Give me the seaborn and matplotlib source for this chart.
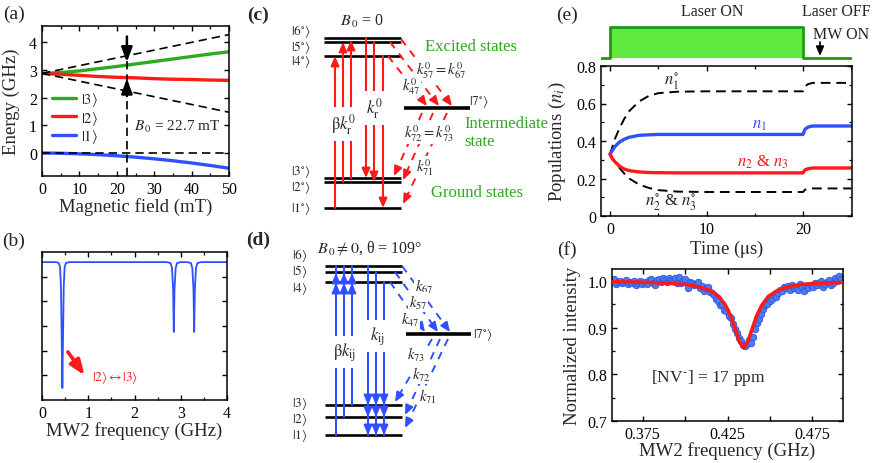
import numpy as np
import pandas as pd
import matplotlib
matplotlib.use("Agg")
import matplotlib.pyplot as plt
import seaborn as sns

# ---------------- data ----------------
# (a) energy levels vs magnetic field
field_mT = [0, 5, 10, 15, 20, 25, 30, 35, 40, 45, 50]
E3 = [2.87, 2.90, 2.96, 3.04, 3.12, 3.21, 3.30, 3.39, 3.48, 3.57, 3.65]
E2 = [2.87, 2.84, 2.80, 2.76, 2.73, 2.71, 2.68, 2.66, 2.65, 2.63, 2.62]
E1 = [0.0, -0.01, -0.03, -0.06, -0.10, -0.15, -0.21, -0.28, -0.36, -0.45, -0.55]
dash_field = [0, 50]
dash_upper = [2.87, 4.27]
dash_lower = [2.87, 1.47]
dash_zero = [0.0, 0.0]
B0_field = 22.7

# (b) ODMR spectrum (arb. units)
mw_freq = [0.0, 0.30, 0.36, 0.39, 0.41, 0.425, 0.44, 0.455, 0.47, 0.49, 0.52, 0.60,
           2.70, 2.78, 2.81, 2.835, 2.85, 2.865, 2.89, 2.92, 3.00,
           3.14, 3.22, 3.25, 3.275, 3.29, 3.305, 3.33, 3.36, 3.44, 4.0]
mw_signal = [5.59, 5.59, 5.56, 5.40, 4.60, 2.60, 0.49, 2.60, 4.60, 5.40, 5.56, 5.59,
             5.59, 5.55, 5.35, 4.50, 2.76, 4.50, 5.35, 5.55, 5.59,
             5.59, 5.55, 5.35, 4.50, 2.76, 4.50, 5.35, 5.55, 5.59, 5.59]

# (e) populations vs time
time_us = [0, 0.25, 0.5, 1, 1.5, 2, 3, 4, 5, 7, 10, 15, 19.95, 20.0, 20.2, 20.5, 21, 25]
n1 = [0.33, 0.35, 0.37, 0.395, 0.41, 0.42, 0.43, 0.433, 0.435, 0.435, 0.435, 0.435,
      0.435, 0.435, 0.462, 0.474, 0.48, 0.48]
n23 = [0.33, 0.305, 0.29, 0.265, 0.25, 0.242, 0.235, 0.232, 0.231, 0.23, 0.23, 0.23,
       0.23, 0.23, 0.246, 0.252, 0.256, 0.256]
n1_0 = [0.33, 0.37, 0.41, 0.47, 0.52, 0.56, 0.61, 0.64, 0.655, 0.663, 0.665, 0.665,
        0.665, 0.665, 0.69, 0.703, 0.71, 0.71]
n23_0 = [0.33, 0.31, 0.29, 0.255, 0.225, 0.2, 0.168, 0.15, 0.138, 0.13, 0.128, 0.128,
         0.128, 0.128, 0.14, 0.145, 0.147, 0.147]
laser_t = [-0.9, 0, 0, 20, 20, 25]
laser_on = [0, 0, 1, 1, 0, 0]

# (f) measured ODMR dip and fit
meas_int = [1.004, 0.993, 0.998, 1.001, 0.996, 0.999, 1.003, 0.994, 0.999, 0.997,
            1.001, 0.992, 0.996, 1.000, 0.994, 0.998, 0.993, 1.002, 1.004, 0.997,
            0.991, 1.003, 1.005, 0.999, 1.006, 1.002, 0.998, 1.007, 1.003, 1.000,
            1.006, 0.997, 1.009, 0.995, 1.001, 1.004, 0.985, 0.998, 0.996, 0.992,
            0.993, 0.998, 0.985, 0.990, 0.978, 0.985, 0.987, 0.976, 0.975, 0.970,
            0.961, 0.957, 0.948, 0.950, 0.938, 0.935, 0.925, 0.920, 0.908, 0.898,
            0.888, 0.878, 0.872, 0.863, 0.860, 0.866, 0.873, 0.868, 0.880, 0.898,
            0.910, 0.918, 0.930, 0.940, 0.948, 0.952, 0.958, 0.962, 0.970, 0.966,
            0.975, 0.981, 0.978, 0.988, 0.985, 0.990, 0.982, 0.992, 0.985, 0.988,
            0.981, 0.993, 0.987, 0.978, 0.990, 0.985, 0.992, 0.988, 0.997, 0.991,
            0.995, 1.000, 0.988, 0.994, 0.998, 1.003, 0.991, 0.997, 1.006, 1.001,
            1.012, 1.005]
meas_freq = np.linspace(0.358, 0.492, len(meas_int))
fit_freq = [0.357, 0.37, 0.38, 0.39, 0.40, 0.405, 0.41, 0.415, 0.42, 0.424, 0.427,
            0.430, 0.432, 0.4345, 0.437, 0.439, 0.442, 0.445, 0.449, 0.454, 0.459,
            0.464, 0.469, 0.479, 0.492]
fit_int = [0.9985, 0.998, 0.997, 0.9955, 0.993, 0.990, 0.986, 0.979, 0.967, 0.947, 0.924,
           0.892, 0.870, 0.857, 0.870, 0.892, 0.924, 0.947, 0.967, 0.979, 0.986,
           0.990, 0.993, 0.9955, 0.997]

# ---------------- style ----------------
sns.set_theme(style="ticks")
plt.rcParams["font.family"] = ["Liberation Serif", "DejaVu Serif"]
plt.rcParams["mathtext.fontset"] = "stix"
plt.rcParams.update({
    "xtick.direction": "in", "ytick.direction": "in",
    "xtick.top": True, "ytick.right": True,
    "axes.linewidth": 1.1, "xtick.major.width": 1.0, "ytick.major.width": 1.0,
    "xtick.minor.width": 0.9, "ytick.minor.width": 0.9,
    "xtick.major.size": 3.5, "ytick.major.size": 3.5,
    "xtick.minor.size": 2.0, "ytick.minor.size": 2.0,
    "xtick.labelsize": 11.5, "ytick.labelsize": 11.5,
    "axes.labelsize": 13.5, "axes.edgecolor": "black",
    "xtick.color": "black", "ytick.color": "black",
})

W, H = 872, 464
fig = plt.figure(figsize=(W / 100, H / 100), dpi=100)


def add_ax(l, r, t, b):
    return fig.add_axes([l / W, (H - b) / H, (r - l) / W, (b - t) / H])


GREEN = "#2eaa1e"
RED = "#ff1a1a"
BLUE = "#3050ff"
dash = (0, (5, 3))

# ---- (a) ----
axa = add_ax(42, 229, 27, 177)
sns.lineplot(x=field_mT, y=E3, ax=axa, color=GREEN, lw=2.4, label=r"$|3\rangle$")
sns.lineplot(x=field_mT, y=E2, ax=axa, color=RED, lw=2.4, label=r"$|2\rangle$")
sns.lineplot(x=field_mT, y=E1, ax=axa, color=BLUE, lw=2.4, label=r"$|1\rangle$")
for yy in (dash_upper, dash_lower, dash_zero):
    sns.lineplot(x=dash_field, y=yy, ax=axa, color="black", lw=1.2, linestyle=dash)
axa.plot([B0_field, B0_field], [-0.83, 4.1], color="black", lw=1.2, linestyle=dash)
axa.annotate("", xy=(B0_field, 3.28), xytext=(B0_field, 4.2),
             arrowprops=dict(arrowstyle="-|>,head_length=0.8,head_width=0.3",
                             color="black", lw=1.8, shrinkA=0, shrinkB=0, mutation_scale=11))
axa.annotate("", xy=(B0_field, 2.68), xytext=(B0_field, 2.05),
             arrowprops=dict(arrowstyle="-|>,head_length=0.8,head_width=0.3",
                             color="black", lw=1.8, shrinkA=0, shrinkB=0, mutation_scale=11))
axa.text(24.6, 0.97, r"$B_{\,0}$ = 22.7 mT", fontsize=11, va="center", ha="left")
axa.set_xlim(0, 50)
axa.set_ylim(-0.83, 4.58)
axa.set_xticks([0, 10, 20, 30, 40, 50])
axa.set_xticks([5, 15, 25, 35, 45], minor=True)
axa.set_yticks([0, 1, 2, 3, 4])
axa.set_xlabel("Magnetic field (mT)")
axa.set_ylabel("Energy (GHz)")
axa.xaxis.set_label_coords(0.5, -0.14)
axa.yaxis.set_label_coords(-0.115, 0.5)
axa.legend(loc="center left", bbox_to_anchor=(0.0, 0.39), frameon=False, fontsize=10.5,
           handlelength=1.6, handletextpad=0.4, labelspacing=0.05, borderpad=0.2)

# ---- (b) ----
axb = add_ax(42, 227, 253, 401)
sns.lineplot(x=mw_freq, y=mw_signal, ax=axb, color=BLUE, lw=1.3, estimator=None, sort=False)
axb.set_xlim(0, 4)
axb.set_ylim(0, 6)
axb.set_xticks([0, 1, 2, 3, 4])
axb.set_xticks([0.5, 1.5, 2.5, 3.5], minor=True)
axb.set_yticks([1, 2, 3, 4, 5])
axb.set_yticklabels([])
axb.set_xlabel("MW2 frequency (GHz)")
axb.xaxis.set_label_coords(0.5, -0.145)
axb.set_ylabel("")
axb.annotate("", xy=(0.92, 1.0), xytext=(0.56, 1.95),
             arrowprops=dict(arrowstyle="-|>,head_length=0.9,head_width=0.35",
                             color=RED, lw=2.6, shrinkA=0, shrinkB=0, mutation_scale=10))
axb.text(1.08, 0.95, r"$|2\rangle \leftrightarrow |3\rangle$", color=RED, fontsize=9.5,
         va="center", ha="left")

# ---- (e) ----
axe = add_ax(601, 852, 67, 217)
sns.lineplot(x=time_us, y=n1_0, ax=axe, color="black", lw=1.4, linestyle=dash, estimator=None, sort=False)
sns.lineplot(x=time_us, y=n23_0, ax=axe, color="black", lw=1.4, linestyle=dash, estimator=None, sort=False)
sns.lineplot(x=time_us, y=n1, ax=axe, color=BLUE, lw=2.4, estimator=None, sort=False)
sns.lineplot(x=time_us, y=n23, ax=axe, color=RED, lw=2.4, estimator=None, sort=False)
axe.set_xlim(-0.93, 25.07)
axe.set_ylim(0, 0.8)
axe.set_xticks([0, 10, 20])
axe.set_xticks([5, 15, 25], minor=True)
axe.set_yticks([0, 0.2, 0.4, 0.6, 0.8])
axe.set_yticklabels(["0", "0.2", "0.4", "0.6", "0.8"])
axe.set_yticks([0.1, 0.3, 0.5, 0.7], minor=True)
axe.set_xlabel(r"Time ($\mathrm{\mu}$s)")
axe.set_ylabel(r"Populations ($n_i$)")
axe.xaxis.set_label_coords(0.5, -0.145)
axe.yaxis.set_label_coords(-0.13, 0.5)
axe.text(6.4, 0.72, r"$n_1^{\circ}$", fontsize=12, ha="center", va="center")
axe.text(15.5, 0.49, r"$n_1$", fontsize=12, color=BLUE, ha="center", va="center")
axe.text(15.8, 0.29, r"$n_2$ & $n_3$", fontsize=12, color=RED, ha="center", va="center")
axe.text(6.3, 0.075, r"$n_2^{\circ}$ & $n_3^{\circ}$", fontsize=12, ha="center", va="center")

# pulse sequence
axp = add_ax(601, 852, 20, 62)
axp.fill_between(laser_t, laser_on, 0, color="#5fe83e", lw=0)
sns.lineplot(x=laser_t, y=laser_on, ax=axp, color="#1f9a10", lw=2.0, estimator=None, sort=False)
axp.set_xlim(-0.93, 25.07)
axp.set_ylim(-0.097, 1.258)
axp.axis("off")

# ---- (f) ----
axf = add_ax(612, 843, 270, 422)
sns.scatterplot(x=meas_freq, y=meas_int, ax=axf, color="#4a7cf5", edgecolor="#2f55e0",
                s=22, linewidth=0.6, zorder=2)
sns.lineplot(x=fit_freq, y=fit_int, ax=axf, color=RED, lw=2.6, zorder=3)
axf.set_xlim(0.357, 0.493)
axf.set_ylim(0.7, 1.026)
axf.set_xticks([0.375, 0.4, 0.425, 0.45, 0.475])
axf.set_xticklabels(["0.375", "", "0.425", "", "0.475"])
axf.set_yticks([0.7, 0.8, 0.9, 1.0])
axf.set_yticklabels(["0.7", "0.8", "0.9", "1.0"])
axf.set_yticks([0.75, 0.85, 0.95], minor=True)
axf.set_xlabel("MW2 frequency (GHz)")
axf.set_ylabel("Normalized intensity")
axf.xaxis.set_label_coords(0.5, -0.13)
axf.yaxis.set_label_coords(-0.135, 0.5)
axf.text(0.4138, 0.795, r"[NV$^{\text{-}}$] = 17 ppm", fontsize=12.5, ha="center", va="center")

# ---- overlay for diagrams (c), (d) and panel labels ----
ov = fig.add_axes([0, 0, 1, 1])
ov.set_xlim(0, W)
ov.set_ylim(H, 0)
ov.axis("off")
ov.patch.set_alpha(0)

for lab, x, y, wt in [("(a)", 14, 14, "normal"), ("(b)", 14, 241, "normal"),
                      ("(c)", 258, 15, "bold"), ("(d)", 258, 240, "bold"),
                      ("(e)", 567, 15, "normal"), ("(f)", 567, 250, "normal")]:
    ov.text(x, y, lab, fontsize=14, ha="center", va="center", fontweight=wt)

ov.text(712, 12, "Laser ON", fontsize=11.5, ha="center", va="center")
ov.text(836, 12, "Laser OFF", fontsize=11.5, ha="center", va="center")
ov.text(841, 35, "MW ON", fontsize=11.5, ha="center", va="center")


def arrow(x0, y0, x1, y1, color, lw=1.5, ms=8, hl=0.7, hw=0.3):
    ov.annotate("", xy=(x1, y1), xytext=(x0, y0),
                arrowprops=dict(arrowstyle=f"-|>,head_length={hl},head_width={hw}",
                                color=color, lw=lw, shrinkA=0, shrinkB=0, mutation_scale=ms))


def dashed_arrow(x0, y0, x1, y1, color):
    L = np.hypot(x1 - x0, y1 - y0)
    ux, uy = (x1 - x0) / L, (y1 - y0) / L
    xm, ym = x1 - 8 * ux, y1 - 8 * uy
    ov.plot([x0, xm], [y0, ym], color=color, lw=1.4, linestyle=(0, (4, 3.5)))
    arrow(xm, ym, x1, y1, color, lw=1.4)


wb = dict(fc="white", ec="none", pad=0.6)
wbig = dict(fc="white", ec="none", pad=3.5)
LFS = 9.5
KFS = 10.5

# (c) levels at B0 = 0
c_top = [39, 43, 57]          # |6°>, |5°>, |4°>
c_bot = [179, 183, 209]       # |3°>, |2°>, |1°>
c_mid = 109                   # |7°>
for y in c_top + c_bot:
    ov.plot([324, 401], [y, y], color="black", lw=1.9, solid_capstyle="butt")
ov.plot([404, 470], [c_mid, c_mid], color="black", lw=2.6, solid_capstyle="butt")
for lab, y in zip([r"$|6^{\circ}\rangle$", r"$|5^{\circ}\rangle$", r"$|4^{\circ}\rangle$",
                   r"$|3^{\circ}\rangle$", r"$|2^{\circ}\rangle$", r"$|1^{\circ}\rangle$"],
                  [32, 47, 62, 172, 188, 209]):
    ov.text(301, y, lab, fontsize=LFS, ha="center", va="center")
ov.text(479, 102, r"$|7^{\circ}\rangle$", fontsize=LFS, ha="center", va="center")
ov.text(362, 21, r"$B_{\,0}$ = 0", fontsize=11.5, ha="center", va="center")
for x, y0, y1 in zip([335, 343, 351], [209, 183, 179], [57, 43, 41]):
    arrow(x, y0, x, y1, RED)
for x, y0, y1 in zip([366, 374, 383], [39, 43, 57], [179, 183, 209]):
    arrow(x, y0, x, y1, RED)
for x0, y0, x1, y1 in [(401, 40, 452, 107), (390, 43, 439, 107), (388, 57, 427, 107)]:
    dashed_arrow(x0, y0, x1, y1, RED)
for x0, y0, x1, y1 in [(422, 114, 394, 177), (433, 114, 403, 181), (447, 114, 403, 205)]:
    dashed_arrow(x0, y0, x1, y1, RED)
ov.text(344, 125, r"$\mathrm{\beta}k^0_\mathrm{r}$", fontsize=12, ha="center", va="center", bbox=wbig)
ov.text(375, 109, r"$k^0_\mathrm{r}$", fontsize=12, ha="center", va="center", bbox=wbig)
ov.text(441, 71, r"$k^0_{57}=k^0_{67}$", fontsize=KFS, ha="center", va="center", bbox=wb)
ov.text(411, 87, r"$k^0_{47}$", fontsize=KFS, ha="center", va="center", bbox=wb)
ov.text(429, 134, r"$k^0_{72}=k^0_{73}$", fontsize=KFS, ha="center", va="center", bbox=wb)
ov.text(425, 168, r"$k^0_{71}$", fontsize=KFS, ha="center", va="center", bbox=wb)
ov.text(425, 47, "Excited states", fontsize=12, color=GREEN, ha="left", va="center")
ov.text(464, 124, "Intermediate", fontsize=12, color=GREEN, ha="left", va="center")
ov.text(464, 142, "state", fontsize=12, color=GREEN, ha="left", va="center")
ov.text(431, 193, "Ground states", fontsize=12, color=GREEN, ha="left", va="center")

# (d) levels at B0 != 0
d_top = [267, 273, 283]       # |6>, |5>, |4>
d_bot = [406, 418, 436]       # |3>, |2>, |1>
d_mid = 335                   # |7°>
for y in d_top + d_bot:
    ov.plot([325, 402], [y, y], color="black", lw=1.9, solid_capstyle="butt")
ov.plot([406, 471], [d_mid, d_mid], color="black", lw=2.6, solid_capstyle="butt")
for lab, y in zip([r"$|6\rangle$", r"$|5\rangle$", r"$|4\rangle$",
                   r"$|3\rangle$", r"$|2\rangle$", r"$|1\rangle$"],
                  [256, 272, 289, 404, 420, 436]):
    ov.text(300, y, lab, fontsize=LFS, ha="center", va="center")
ov.text(483, 335, r"$|7^{\circ}\rangle$", fontsize=LFS, ha="center", va="center")
ov.text(370, 248, r"$B_{\,0}\neq 0$, θ = 109°", fontsize=11.5, ha="center", va="center")
for x, y0 in zip([336, 344, 352], [436, 418, 406]):
    ov.plot([x, x], [y0, 267], color=BLUE, lw=1.5)
    arrow(x, 295, x, 284, BLUE)
    arrow(x, 285, x, 274, BLUE)
for x, y0 in zip([368, 376, 384], [267, 273, 283]):
    ov.plot([x, x], [y0, 436], color=BLUE, lw=1.5)
    for yt in (406, 418, 436):
        arrow(x, yt - 10, x, yt, BLUE)
for x0, y0, x1, y1 in [(402, 267, 450, 333), (395, 273, 438, 333), (390, 283, 425, 333)]:
    dashed_arrow(x0, y0, x1, y1, BLUE)
for x0, y0, x1, y1 in [(432, 340, 395, 403), (440, 340, 405, 416), (448, 340, 405, 429)]:
    dashed_arrow(x0, y0, x1, y1, BLUE)
ov.text(345, 353, r"$\mathrm{\beta}k_\mathrm{ij}$", fontsize=12, ha="center", va="center", bbox=wbig)
ov.text(377, 337, r"$k_\mathrm{ij}$", fontsize=12, ha="center", va="center", bbox=wbig)
ov.text(424, 287, r"$k_{67}$", fontsize=KFS, ha="center", va="center", bbox=wb)
ov.text(418, 303, r"$k_{57}$", fontsize=KFS, ha="center", va="center", bbox=wb)
ov.text(410, 320, r"$k_{47}$", fontsize=KFS, ha="center", va="center", bbox=wb)
ov.text(416, 355, r"$k_{73}$", fontsize=KFS, ha="center", va="center", bbox=wb)
ov.text(421, 375, r"$k_{72}$", fontsize=KFS, ha="center", va="center", bbox=wb)
ov.text(428, 397, r"$k_{71}$", fontsize=KFS, ha="center", va="center", bbox=wb)

# MW ON arrow
arrow(820, 43, 820, 57, "black", lw=1.2, ms=8)

fig.savefig("out.png", dpi=100)
